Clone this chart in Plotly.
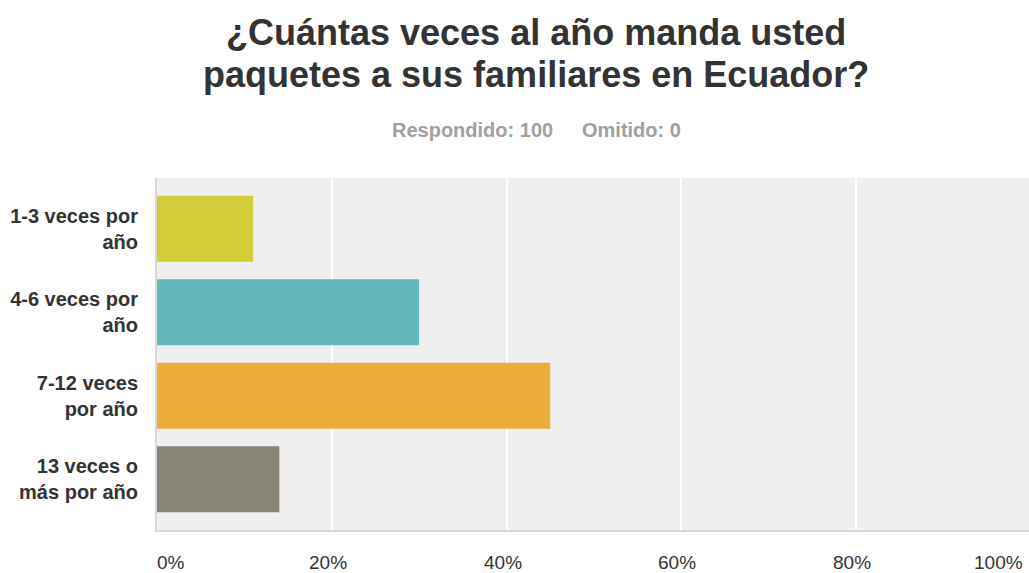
import plotly.graph_objects as go

categories = ["1-3 veces por<br>año", "4-6 veces por<br>año", "7-12 veces<br>por año", "13 veces o<br>más por año"]
values = [11, 30, 45, 14]
colors = ["#D3CD3A", "#62B8BA", "#EDAD3B", "#888574"]
tick_vals = [0, 20, 40, 60, 80, 100]
tick_text = ["0%", "20%", "40%", "60%", "80%", "100%"]
title_lines = ["¿Cuántas veces al año manda usted", "paquetes a sus familiares en Ecuador?"]
respondido = "Respondido: 100"
omitido = "Omitido: 0"

FONT = "Liberation Sans, Arial, Helvetica, sans-serif"
PW = 872  # plot width in px
PH = 352  # plot height in px
X0 = 157  # plot left within figure
Y0 = 178  # plot top within figure
XMAX = 99.8

fig = go.Figure(go.Bar(
    x=values, y=categories, orientation="h",
    marker=dict(color=colors, line=dict(width=0)),
    width=0.79, hoverinfo="skip",
))

fig.update_layout(
    width=1029, height=573,
    margin=dict(l=X0, r=0, t=Y0, b=43, autoexpand=False),
    paper_bgcolor="white", plot_bgcolor="#EFEFEF",
    showlegend=False,
    font=dict(family=FONT, color="#333333"),
)
fig.update_xaxes(
    range=[0, XMAX], tickvals=tick_vals, showticklabels=False,
    showgrid=True, gridcolor="white", gridwidth=2, zeroline=False,
    showline=True, linecolor="#D8D8D8", linewidth=2, fixedrange=True,
)
fig.update_yaxes(
    categoryorder="array", categoryarray=categories,
    range=[3.607, -0.607], showgrid=False, zeroline=False,
    showline=True, linecolor="#D8D8D8", linewidth=2,
    tickfont=dict(family=FONT, size=20, color="#333333", weight="bold"),
    ticks="", ticklabelstandoff=13, fixedrange=True,
)

def px_x(x):
    return (x - X0) / PW

def px_y(y):
    return (Y0 + PH - y) / PH

annotations = []
for i, line in enumerate(title_lines):
    annotations.append(dict(
        text=f"<b>{line}</b>", xref="paper", yref="paper",
        x=px_x(536), y=px_y([32, 74][i]),
        xanchor="center", yanchor="middle", showarrow=False,
        font=dict(family=FONT, size=36, color="#333333"),
    ))
annotations.append(dict(
    text=f"<b>{respondido}</b>", xref="paper", yref="paper",
    x=px_x(555), y=px_y(130), xanchor="right", yanchor="middle",
    showarrow=False, font=dict(family=FONT, size=20, color="#A0A0A0"),
))
annotations.append(dict(
    text=f"<b>{omitido}</b>", xref="paper", yref="paper",
    x=px_x(580), y=px_y(130), xanchor="left", yanchor="middle",
    showarrow=False, font=dict(family=FONT, size=20, color="#A0A0A0"),
))
for v, t in zip(tick_vals, tick_text):
    if v == 0:
        xa, xs = "left", -2
    elif v >= XMAX:
        xa, xs = "right", -4
    else:
        xa, xs = "center", -4
    annotations.append(dict(
        text=t, xref="x", yref="paper", x=min(v, XMAX), y=px_y(562),
        xanchor=xa, yanchor="middle", xshift=xs, showarrow=False,
        font=dict(family=FONT, size=19, color="#333333"),
    ))
fig.update_layout(annotations=annotations)

fig.write_html(
    "out.html",
    config={"displayModeBar": False},
    post_script="document.body.style.margin='0';document.body.style.overflow='hidden';",
)
